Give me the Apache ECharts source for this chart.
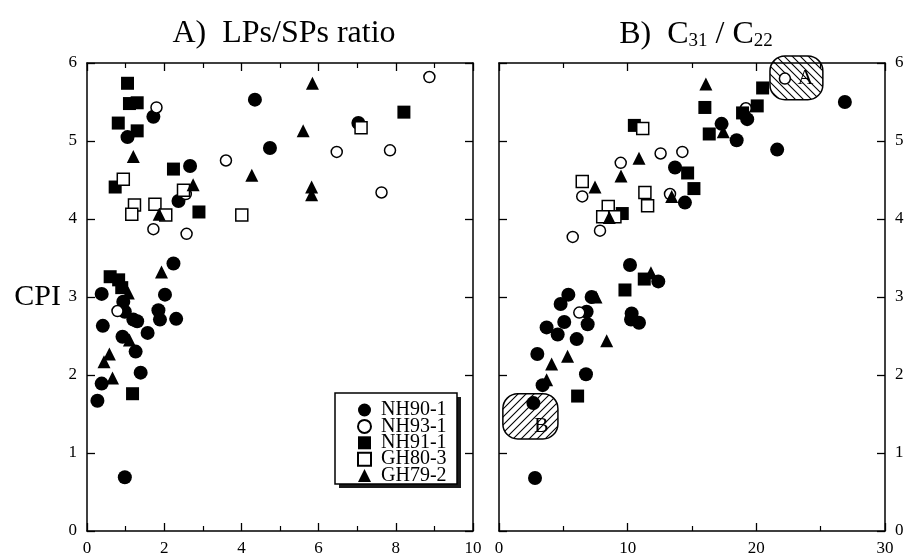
<!DOCTYPE html>
<html><head><meta charset="utf-8">
<script src="https://cdn.jsdelivr.net/npm/echarts@6/dist/echarts.min.js"></script>
<style>html,body{margin:0;padding:0;background:#fff}#c{width:908px;height:560px}</style>
</head><body><div id="c"></div>
<script>
// ---- data ----
const seriesNames = ['NH90-1', 'NH93-1', 'NH91-1', 'GH80-3', 'GH79-2'];
const panelTitles = ['A)  LPs/SPs ratio', 'B)  C{s|31} / C{s|22}'];
const yTicks = [0, 1, 2, 3, 4, 5, 6];
const xRangeA = [0, 10, 2];
const xRangeB = [0, 30, 10];

// Panel A: LPs/SPs ratio vs CPI
const lpNH90 = [[1.72,5.31],[1.05,5.05],[4.35,5.53],[4.74,4.91],[2.67,4.68],[2.37,4.23],[7.03,5.23],
  [2.24,3.43],[0.38,3.04],[2.02,3.03],[0.94,2.94],[0.98,2.81],[1.85,2.83],[1.20,2.71],[1.30,2.69],
  [1.89,2.71],[2.31,2.72],[0.41,2.63],[1.57,2.54],[0.92,2.49],[1.26,2.30],[1.39,2.03],[0.38,1.89],
  [0.27,1.67],[0.98,0.69]];
const lpNH93 = [[1.80,5.43],[3.60,4.75],[2.56,4.32],[1.72,3.87],[2.58,3.81],[8.87,5.82],[6.47,4.86],
  [7.85,4.88],[7.63,4.34],[0.79,2.82]];
const lpNH91 = [[1.05,5.74],[1.10,5.48],[1.30,5.49],[0.81,5.23],[1.30,5.13],[2.24,4.64],[0.73,4.41],
  [2.90,4.09],[8.21,5.37],[0.60,3.26],[0.82,3.22],[0.90,3.12],[1.18,1.76]];
const lpGH80 = [[0.94,4.51],[2.50,4.37],[4.01,4.05],[1.23,4.18],[1.16,4.06],[1.76,4.19],[2.04,4.05],[7.10,5.17]];
const lpGH79 = [[1.20,4.80],[4.27,4.56],[2.75,4.44],[1.87,4.06],[5.84,5.74],[5.60,5.13],[5.82,4.41],
  [5.82,4.31],[1.93,3.32],[1.07,3.05],[0.58,2.27],[0.44,2.17],[0.66,1.96],[1.10,2.45]];

// Panel B: C31/C22 vs CPI
const cNH90 = [[13.68,4.66],[14.45,4.21],[26.88,5.50],[19.29,5.28],[17.30,5.22],[18.47,5.01],[21.62,4.89],
  [10.18,3.41],[12.38,3.20],[5.39,3.03],[7.20,3.00],[4.79,2.91],[6.81,2.81],[10.31,2.79],[10.88,2.67],
  [10.26,2.71],[5.07,2.68],[6.89,2.65],[3.70,2.61],[4.56,2.52],[6.04,2.46],[2.98,2.27],[6.76,2.01],
  [3.39,1.87],[2.67,1.64],[2.80,0.68]];
const cNH93 = [[12.56,4.84],[14.25,4.86],[9.46,4.72],[6.47,4.29],[13.29,4.32],[5.73,3.77],[7.85,3.85],
  [22.22,5.80],[19.19,5.42],[6.24,2.80]];
const cNH91 = [[10.52,5.20],[14.66,4.59],[15.15,4.39],[9.58,4.07],[20.49,5.68],[16.00,5.43],[20.07,5.45],
  [18.93,5.36],[16.34,5.09],[11.29,3.23],[9.79,3.09],[6.11,1.73]];
const cGH80 = [[11.17,5.16],[6.47,4.48],[11.34,4.34],[11.55,4.17],[8.49,4.16],[8.06,4.03],[9.01,4.03]];
const cGH79 = [[10.88,4.78],[9.48,4.55],[7.46,4.41],[13.42,4.29],[8.57,4.02],[16.08,5.73],[17.43,5.12],
  [11.81,3.31],[7.54,3.00],[8.37,2.44],[5.33,2.24],[4.09,2.14],[3.70,1.94]];

// Hatched regions in panel B: [xMin, xMax, yMin, yMax]
const regionA = [21.06, 25.17, 5.53, 6.09];
const regionB = [0.30, 4.58, 1.18, 1.76];
const regionLabels = ['A', 'B'];

// ---- rendering ----
const FONT = 'Liberation Serif, Times New Roman, serif';
function hatch(dir) {
  const c = document.createElement('canvas');
  c.width = 8; c.height = 8;
  const g = c.getContext('2d');
  g.strokeStyle = '#000'; g.lineWidth = 1.1; g.beginPath();
  if (dir > 0) { g.moveTo(0,8); g.lineTo(8,0); g.moveTo(-2,2); g.lineTo(2,-2); g.moveTo(6,10); g.lineTo(10,6); }
  else { g.moveTo(0,0); g.lineTo(8,8); g.moveTo(-2,6); g.lineTo(2,10); g.moveTo(6,-2); g.lineTo(10,2); }
  g.stroke();
  return c;
}
const styles = {
  'NH90-1': { symbol: 'circle', size: 14, itemStyle: { color: '#000', opacity: 1 } },
  'NH93-1': { symbol: 'circle', size: 11, itemStyle: { color: '#fff', borderColor: '#000', borderWidth: 1.5, opacity: 1 } },
  'NH91-1': { symbol: 'rect', size: 13, itemStyle: { color: '#000', opacity: 1 } },
  'GH80-3': { symbol: 'rect', size: 12, itemStyle: { color: '#fff', borderColor: '#000', borderWidth: 1.5, opacity: 1 } },
  'GH79-2': { symbol: 'triangle', size: 13, itemStyle: { color: '#000', opacity: 1 } }
};
function scatter(name, data, xi, yi) {
  const s = styles[name];
  return { type: 'scatter', name: name, data: data, xAxisIndex: xi, yAxisIndex: yi,
    symbol: s.symbol, symbolSize: s.size, itemStyle: s.itemStyle, z: 5, silent: true };
}
function region(bounds, label, dir, offX, offY) {
  const pat = hatch(dir);
  return { type: 'custom', name: 'region' + label, xAxisIndex: 2, yAxisIndex: 3, clip: false, z: 3, silent: true,
    data: [bounds],
    renderItem: function (params, api) {
      const p1 = api.coord([api.value(0), api.value(3)]);
      const p2 = api.coord([api.value(1), api.value(2)]);
      return { type: 'group', children: [
        { type: 'rect', shape: { x: p1[0], y: p1[1], width: p2[0]-p1[0], height: p2[1]-p1[1], r: 15 },
          style: { fill: { image: pat, repeat: 'repeat' }, stroke: '#000', lineWidth: 1.5 } },
        { type: 'text', style: { text: label, x: (p1[0]+p2[0])/2 + offX, y: (p1[1]+p2[1])/2 + offY,
          align: 'center', verticalAlign: 'middle', font: '22px ' + FONT, fill: '#000' } }
      ]};
    }
  };
}
const lbl = { fontFamily: FONT, fontSize: 17, color: '#000' };
function xAx(grid, r, pos, show) {
  return { type: 'value', gridIndex: grid, min: r[0], max: r[1], interval: r[2], position: pos,
    axisLine: { show: true, onZero: false, lineStyle: { color: '#000', width: 1.5 } },
    axisTick: { show: true, inside: true, length: 8, lineStyle: { color: '#000', width: 1.3 } },
    minorTick: { show: true, splitNumber: 2, length: 5, lineStyle: { color: '#000', width: 1.2 } },
    axisLabel: Object.assign({ show: show, margin: 9 }, lbl), splitLine: { show: false } };
}
function yAx(grid, pos, show, name) {
  const a = { type: 'value', gridIndex: grid, min: 0, max: 6, interval: 1, position: pos,
    axisLine: { show: true, onZero: false, lineStyle: { color: '#000', width: 1.5 } },
    axisTick: { show: true, inside: true, length: 8, lineStyle: { color: '#000', width: 1.3 } },
    axisLabel: Object.assign({ show: show, margin: 10, formatter: v => yTicks.includes(v) ? String(v) : '' }, lbl),
    splitLine: { show: false } };
  if (name) {
    a.name = name; a.nameLocation = 'middle'; a.nameRotate = 0; a.nameGap = 26;
    a.nameTextStyle = { fontFamily: FONT, fontSize: 30, color: '#000' };
  }
  return a;
}
const chart = echarts.init(document.getElementById('c'), null, { renderer: 'canvas' });
chart.setOption({
  backgroundColor: '#fff',
  animation: false,
  title: [
    { text: panelTitles[0], left: 279, top: 13, textAlign: 'center',
      textStyle: { fontFamily: FONT, fontSize: 32, fontWeight: 'normal', color: '#000' } },
    { text: panelTitles[1], left: 691, top: 13, textAlign: 'center',
      textStyle: { fontFamily: FONT, fontSize: 32, fontWeight: 'normal', color: '#000',
        rich: { s: { fontFamily: FONT, fontSize: 19, color: '#000', padding: [14, 0, 0, 0] } } } }
  ],
  grid: [
    { left: 87, top: 63, width: 386, height: 468, show: false },
    { left: 499, top: 63, width: 386, height: 468, show: false }
  ],
  graphic: [
    { type: 'rect', z: 1, shape: { x: 339, y: 397, width: 122, height: 91 }, style: { fill: '#1a1a1a' } },
    { type: 'rect', z: 2, shape: { x: 335, y: 393, width: 122, height: 91 },
      style: { fill: '#fff', stroke: '#000', lineWidth: 1.5 } }
  ],
  xAxis: [xAx(0, xRangeA, 'bottom', true), xAx(0, xRangeA, 'top', false),
          xAx(1, xRangeB, 'bottom', true), xAx(1, xRangeB, 'top', false)],
  yAxis: [yAx(0, 'left', true, 'CPI'), yAx(0, 'right', false), yAx(1, 'left', false), yAx(1, 'right', true)],
  legend: {
    data: seriesNames, orient: 'vertical', left: 335, top: 397, z: 10,
    padding: [3, 6, 3, 22], itemGap: -3.6, itemWidth: 13, itemHeight: 13,
    textStyle: { fontFamily: FONT, fontSize: 20, color: '#000', lineHeight: 17, padding: [0, 0, 0, 5] },
    selectedMode: false
  },
  series: [
    scatter('NH90-1', lpNH90, 0, 0), scatter('NH93-1', lpNH93, 0, 0), scatter('NH91-1', lpNH91, 0, 0),
    scatter('GH80-3', lpGH80, 0, 0), scatter('GH79-2', lpGH79, 0, 0),
    region(regionA, regionLabels[0], -1, 9, 0), region(regionB, regionLabels[1], 1, 11, 10),
    scatter('NH90-1', cNH90, 2, 3), scatter('NH93-1', cNH93, 2, 3), scatter('NH91-1', cNH91, 2, 3),
    scatter('GH80-3', cGH80, 2, 3), scatter('GH79-2', cGH79, 2, 3)
  ]
});
</script></body></html>
